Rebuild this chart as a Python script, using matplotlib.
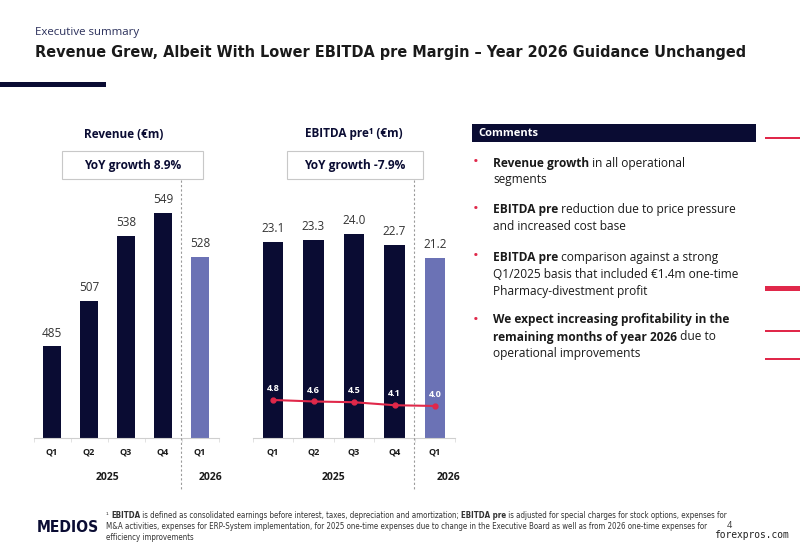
import matplotlib
matplotlib.use("Agg")
import matplotlib.pyplot as plt
from matplotlib.lines import Line2D
from matplotlib.patches import Rectangle
from matplotlib import font_manager

# ---------------- data ----------------
quarters = ["Q1", "Q2", "Q3", "Q4", "Q1"]
years = ["2025", "2026"]
revenue = [485, 507, 538, 549, 528]
ebitda_pre = [23.1, 23.3, 24.0, 22.7, 21.2]
ebitda_margin = [4.8, 4.6, 4.5, 4.1, 4.0]
revenue_growth = "YoY growth 8.9%"
ebitda_growth = "YoY growth -7.9%"

NAVY = "#0a0c33"
LAV = "#6b72b5"
RED = "#e0284a"
TXT = "#1a1a1a"
FONT = "Open Sans"

# condensed face if one is installed
COND = FONT
COND_STRETCH = "normal"
for f in font_manager.fontManager.ttflist:
    if f.name == "DejaVu Sans" and f.stretch == "condensed" and f.weight in (700, "bold"):
        COND = "DejaVu Sans"
        COND_STRETCH = "condensed"
        break

W, H = 800, 548
fig = plt.figure(figsize=(W / 100, H / 100), dpi=100)
fig.patch.set_facecolor("white")


def fx(px):
    return px / W


def fy(py):
    return 1 - py / H


renderer = fig.canvas.get_renderer()


def ftext(x, y, s, **kw):
    kw.setdefault("family", FONT)
    return fig.text(fx(x), fy(y), s, **kw)


def fit_text(x, y, s, width, size, **kw):
    t = ftext(x, y, s, fontsize=size, **kw)
    w = t.get_window_extent(renderer).width
    t.set_fontsize(size * width / w)
    return t


def rich(x, y, runs, size, color=TXT, family=FONT, stretch="normal", va="center"):
    cur = x
    for s, bold in runs:
        t = fig.text(fx(cur), fy(y), s, fontsize=size, color=color, family=family,
                     fontstretch=stretch, weight="bold" if bold else "normal", va=va, ha="left")
        cur += t.get_window_extent(renderer).width
    return cur


# ---------------- header ----------------
fit_text(35, 33, "Executive summary", 105, 9.5, color="#2a2f5a", va="center")
fit_text(35, 53, "Revenue Grew, Albeit With Lower EBITDA pre Margin \u2013 Year 2026 Guidance Unchanged",
         713, 14, weight="bold", color=TXT, va="center", family=COND, fontstretch=COND_STRETCH)
fig.add_artist(Rectangle((0, fy(87)), fx(106), 5 / H, transform=fig.transFigure,
                         color=NAVY, lw=0))


def bar_panel(left_px, width_px, values, ylim, labels_fmt, title, title_x, growth, box, dash_x, year_x):
    ax = fig.add_axes([fx(left_px), fy(438), fx(width_px), 238 / H])
    x = list(range(len(values)))
    colors = [NAVY] * 4 + [LAV]
    ax.bar(x, values, width=0.5, color=colors)
    ax.set_xlim(-0.5, len(values) - 0.5)
    ax.set_ylim(*ylim)
    for s in ["top", "right", "left"]:
        ax.spines[s].set_visible(False)
    ax.spines["bottom"].set_color("#cfcfcf")
    ax.spines["bottom"].set_linewidth(0.8)
    ax.set_yticks([])
    ax.set_xticks(x)
    ax.set_xticklabels(quarters, fontsize=6.5, weight="bold", family=FONT, color=TXT)
    ax.tick_params(axis="x", length=0, pad=7)
    ax.set_xticks([i - 0.5 for i in range(len(values) + 1)], minor=True)
    ax.tick_params(axis="x", which="minor", length=3, color="#dddddd")
    for xi, v in zip(x, values):
        ax.annotate(labels_fmt.format(v), (xi, v), xytext=(0, 5), textcoords="offset points",
                    ha="center", va="bottom", fontsize=8.5, family=FONT, color="#333333")
    bx0, by0, bx1, by1 = box
    ftext(title_x, 134, title, fontsize=8.5, weight="bold", color=NAVY, ha="center", va="center")
    fig.add_artist(Rectangle((fx(bx0), fy(by1)), fx(bx1 - bx0), (by1 - by0) / H,
                             transform=fig.transFigure, fill=False, ec="#c8c8c8", lw=0.8))
    ftext((bx0 + bx1) / 2, (by0 + by1) / 2, growth, fontsize=8.6, weight="bold", color=NAVY,
          ha="center", va="center")
    fig.add_artist(Line2D([fx(dash_x), fx(dash_x)], [fy(180), fy(490)], transform=fig.transFigure,
                          color="#9a9a9a", lw=0.8, ls=(0, (2, 2))))
    ftext(year_x[0], 478, years[0], fontsize=7.5, weight="bold", color=TXT, ha="center", va="center")
    ftext(year_x[1], 478, years[1], fontsize=7.5, weight="bold", color=TXT, ha="center", va="center")
    return ax


rev_ax = bar_panel(33.5, 185, revenue, (441, 441 + 238 / 2.08), "{:d}", "Revenue (\u20acm)", 123.5,
                   revenue_growth, (62, 151, 203, 179), 181, (107, 211))
eb_ax = bar_panel(252.75, 202.5, ebitda_pre, (0, 238 / 8.5), "{:.1f}", "EBITDA pre\u00b9 (\u20acm)", 354,
                  ebitda_growth, (287, 151, 423, 179), 414, (333, 449))

tw = eb_ax.twinx()
tw.set_ylim(-0.27, -0.27 + 238 / 7.5)
tw.axis("off")
tw.plot(range(len(ebitda_margin)), ebitda_margin, color=RED, lw=1.5, marker="o", ms=3.5)
for i, v in enumerate(ebitda_margin):
    tw.annotate("{:.1f}".format(v), (i, v), xytext=(0, 5), textcoords="offset points",
                ha="center", va="bottom", fontsize=6.5, weight="bold", color="white", family=FONT)

# ---------------- comments ----------------
fig.add_artist(Rectangle((fx(472), fy(142)), fx(284), 18 / H, transform=fig.transFigure,
                         color=NAVY, lw=0))
ftext(478, 133, "Comments", fontsize=8, weight="bold", color="white", va="center")

bullets = [
    (163, [[("Revenue growth", True), (" in all operational", False)], [("segments", False)]]),
    (210, [[("EBITDA pre", True), (" reduction due to price pressure", False)],
           [("and increased cost base", False)]]),
    (257, [[("EBITDA pre", True), (" comparison against a strong", False)],
           [("Q1/2025 basis that included \u20ac1.4m one-time", False)],
           [("Pharmacy-divestment profit", False)]]),
    (320, [[("We expect increasing profitability in the", True)],
           [("remaining months of year 2026", True), (" due to", False)],
           [("operational improvements", False)]]),
]
for y0, lines in bullets:
    ftext(473, y0, "\u2022", fontsize=11, color=RED, va="center")
    for k, runs in enumerate(lines):
        rich(493, y0 + k * 17, runs, 8.6)

for y, lw in [(138, 2), (288, 5), (331, 2.5), (359, 2.5)]:
    fig.add_artist(Rectangle((fx(765), fy(y + lw / 2)), fx(35), lw / H, transform=fig.transFigure,
                             color=RED, lw=0))

# ---------------- footer ----------------
fit_text(37, 527, "MEDIOS", 62, 14, weight="bold", color=NAVY, va="center",
         family=COND, fontstretch=COND_STRETCH)
foot = [
    [("\u00b9 ", False), ("EBITDA", True), (" is defined as consolidated earnings before interest, taxes, depreciation and amortization; ", False),
     ("EBITDA pre", True), (" is adjusted for special charges for stock options, expenses for", False)],
    [("M&A activities, expenses for ERP-System implementation, for 2025 one-time expenses due to change in the Executive Board as well as from 2026 one-time expenses for", False)],
    [("efficiency improvements", False)],
]
foot_w = [616, 618, None]
foot_size = None
for k, runs in enumerate(foot):
    if foot_w[k] is not None:
        probe = fig.text(0, 0, "".join(r[0] for r in runs), fontsize=6, family=COND, fontstretch=COND_STRETCH)
        w = probe.get_window_extent(renderer).width
        probe.remove()
        size = 6 * foot_w[k] / w
        foot_size = size if foot_size is None else min(foot_size, size)
for k, runs in enumerate(foot):
    rich(106, 516 + k * 10.5, runs, foot_size, color="#333333", family=COND, stretch=COND_STRETCH)
ftext(727, 526, "4", fontsize=6.5, color="#333333", va="center")
fit_text(714, 535, "forexpros.com", 76, 7, color="#222222", va="center", family="DejaVu Sans Mono")

fig.savefig("out.png", dpi=100)
